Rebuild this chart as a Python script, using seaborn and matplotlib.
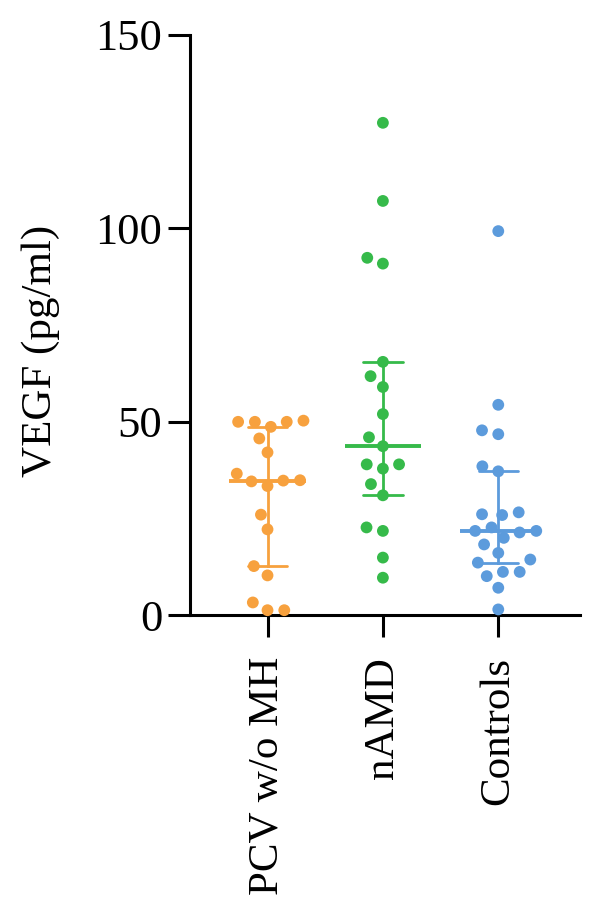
import numpy as np
import pandas as pd
import matplotlib
matplotlib.use("Agg")
import matplotlib.pyplot as plt
import seaborn as sns

# values (pg/ml)
groups = ["PCV w/o MH", "nAMD", "Controls"]
pcv = [50.0, 50.0, 50.3, 48.7, 50.0, 45.7, 42.1, 36.6, 34.6, 34.8, 34.9, 33.4,
       26.0, 22.2, 12.7, 10.3, 3.3, 1.3, 1.3]
namd = [127.3, 107.1, 90.9, 92.4, 65.5, 61.8, 59.0, 52.0, 46.0, 43.7, 39.0,
        37.9, 39.0, 33.9, 31.0, 21.8, 22.7, 14.9, 9.7]
controls = [99.3, 54.4, 47.8, 46.8, 38.5, 37.2, 26.6, 26.1, 25.9, 22.7, 21.8,
            21.8, 21.4, 20.0, 18.3, 16.1, 14.4, 13.6, 11.2, 11.2, 10.1, 7.1, 1.5]
colors = ["#F7A13E", "#36BA4A", "#5C9BDC"]

df = pd.DataFrame({
    "group": [groups[0]] * len(pcv) + [groups[1]] * len(namd) + [groups[2]] * len(controls),
    "vegf": pcv + namd + controls,
})

sns.set_theme(style="ticks")
plt.rcParams["font.family"] = ["Liberation Serif", "DejaVu Serif"]
plt.rcParams["text.color"] = "black"

fig = plt.figure(figsize=(6, 9.21), dpi=100)
ax = fig.add_axes([0.317, 0.332, 0.65, 0.630])

# transparent edge only widens the swarm spacing
sns.swarmplot(data=df, x="group", y="vegf", hue="group", palette=colors,
              size=8.5, linewidth=3, edgecolor=(1, 1, 1, 0), order=groups,
              legend=False, ax=ax, zorder=3)
for coll in ax.collections:
    coll.set_clip_on(False)


def iqr(x):
    return (np.percentile(x, 25, method="weibull"), np.percentile(x, 75, method="weibull"))


sns.pointplot(data=df, x="group", y="vegf", hue="group", palette=colors,
              order=groups, estimator=np.median, errorbar=iqr, capsize=0.34,
              err_kws={"linewidth": 2.0}, linestyle="none", markers="",
              legend=False, ax=ax)

# median lines
for i, vals in enumerate([pcv, namd, controls]):
    ax.hlines(np.median(vals), i - 0.33, i + 0.33, color=colors[i], lw=2.8, zorder=4)

ax.set_ylim(0, 150)
ax.set_xlim(-0.67, 2.71)
ax.set_yticks([0, 50, 100, 150])
ax.set_xlabel("")
ax.set_ylabel("VEGF (pg/ml)", fontsize=31, color="black")
ax.yaxis.set_label_coords(-0.335, 0.455)
ax.tick_params(axis="both", width=2.2, length=16, color="black", labelcolor="black")
ax.tick_params(axis="y", labelsize=32, pad=4)
ax.tick_params(axis="x", labelsize=31, rotation=90, pad=14)
for s in ["left", "bottom"]:
    ax.spines[s].set_linewidth(2.2)
    ax.spines[s].set_color("black")
sns.despine(ax=ax)

plt.savefig("out.png", dpi=100)
